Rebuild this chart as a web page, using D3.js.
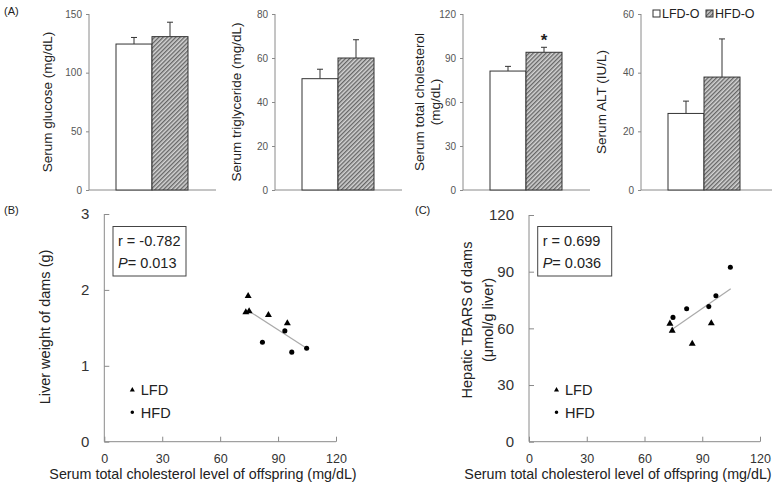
<!DOCTYPE html>
<html><head><meta charset="utf-8">
<script src="https://cdn.jsdelivr.net/npm/d3@7/dist/d3.min.js"></script>
<style>body{margin:0;background:#fff}svg{display:block}text{font-family:"Liberation Sans",Arial,sans-serif}</style>
</head><body>
<svg id="c" width="778" height="497"></svg>
<script>
// ---------- data ----------
const groups = ["LFD-O", "HFD-O"];
const glucoseMean = [124.4, 130.7], glucoseSE = [5.6, 12.3];
const tgMean = [50.6, 60.0], tgSE = [4.3, 8.3];
const tcMean = [81.1, 93.9], tcSE = [3.2, 3.4];
const altMean = [26.1, 38.5], altSE = [4.2, 13.0];
const barTitles = [["Serum glucose (mg/dL)"], ["Serum triglyceride (mg/dL)"], ["Serum total cholesterol", "(mg/dL)"], ["Serum ALT (IU/L)"]];
const barMax = [150, 80, 120, 60];
const barTickStep = [50, 20, 30, 20];
const sigMark = [null, null, "*", null];

// scatter (B): x = serum TC of offspring, y = liver weight of dams
const bLFD_x = [74.5, 73.3, 75.0, 85.0, 94.8], bLFD_y = [1.92, 1.705, 1.72, 1.67, 1.56];
const bHFD_x = [93.5, 81.9, 97.1, 104.8], bHFD_y = [1.46, 1.31, 1.18, 1.23];
const bFit = [[75.0, 1.72], [104.8, 1.23]];
const bStats = ["r = -0.782", "0.013"];
// scatter (C): y = hepatic TBARS
const cLFD_x = [73.2, 74.4, 94.7, 84.8], cLFD_y = [62.5, 58.8, 62.7, 51.9];
const cHFD_x = [104.6, 97.1, 93.4, 81.9, 74.8], cHFD_y = [92.3, 77.3, 71.5, 70.4, 65.8];
const cFit = [[74.8, 59.8], [104.8, 81.0]];
const cStats = ["r = 0.699", "0.036"];
const xTicksScatter = [0, 30, 60, 90, 120];
const bYTicks = [0, 1, 2, 3];
const cYTicks = [0, 30, 60, 90, 120];

// ---------- drawing ----------
const svg = d3.select("#c");
const defs = svg.append("defs");
const pat = defs.append("pattern").attr("id", "hatch").attr("patternUnits", "userSpaceOnUse")
  .attr("width", 3).attr("height", 3).attr("patternTransform", "rotate(45)");
pat.append("rect").attr("width", 3).attr("height", 3).attr("fill", "#d4d4d4");
pat.append("line").attr("x1", 0.75).attr("y1", 0).attr("x2", 0.75).attr("y2", 3).attr("stroke", "#4a4a4a").attr("stroke-width", 1.1);

const fills = ["#fff", "url(#hatch)"];
const AX = "#8a8a8a";

svg.append("text").attr("x", 4).attr("y", 15).attr("font-size", 11).attr("fill", "#222").text("(A)");

const barData = [[glucoseMean, glucoseSE], [tgMean, tgSE], [tcMean, tcSE], [altMean, altSE]];
const axisX = [89, 275, 463, 641];
const labelX = [47.5, 236.5, [419, 435], 601];
const barTop = 14, barBot = 190;

barData.forEach((d, i) => {
  const ax = axisX[i];
  const y = d3.scaleLinear().domain([0, barMax[i]]).range([barBot, barTop]);
  const x = d3.scaleBand().domain(groups).range([ax + 27, ax + 99]).padding(0);
  const g = svg.append("g");
  const yAxis = d3.axisLeft(y).tickValues(d3.range(0, barMax[i] + 0.001, barTickStep[i])).tickSize(3).tickPadding(4);
  const ga = g.append("g").attr("transform", `translate(${ax},0)`).call(yAxis);
  ga.select(".domain").attr("stroke", AX).attr("d", `M0,${barTop}V${barBot}`);
  ga.selectAll(".tick line").attr("stroke", AX);
  ga.selectAll(".tick text").attr("font-size", 10).attr("fill", "#555").attr("font-family", "Liberation Sans, Arial");
  const xEnd = i === 3 ? 772 : ax + 127;
  g.append("line").attr("x1", ax).attr("x2", xEnd).attr("y1", barBot).attr("y2", barBot).attr("stroke", AX);
  groups.forEach((gr, k) => {
    const m = d[0][k], se = d[1][k];
    const bx = x(gr), bw = x.bandwidth();
    g.append("line").attr("x1", bx + bw / 2).attr("x2", bx + bw / 2).attr("y1", y(m)).attr("y2", y(m + se)).attr("stroke", "#333");
    g.append("line").attr("x1", bx + bw / 2 - 3).attr("x2", bx + bw / 2 + 3).attr("y1", y(m + se)).attr("y2", y(m + se)).attr("stroke", "#333");
    g.append("rect").attr("x", bx).attr("y", y(m)).attr("width", bw).attr("height", barBot - y(m))
      .attr("fill", fills[k]).attr("stroke", "#333").attr("stroke-width", 1);
  });
  if (sigMark[i]) {
    const bx = x(groups[1]) + x.bandwidth() / 2;
    g.append("text").attr("x", bx).attr("y", y(d[0][1] + d[1][1])).attr("dy", "-0.1em")
      .attr("text-anchor", "middle").attr("font-size", 17).attr("font-weight", "bold").attr("fill", "#222").text(sigMark[i]);
  }
  barTitles[i].forEach((t, j) => {
    const lx = Array.isArray(labelX[i]) ? labelX[i][j] : labelX[i];
    g.append("text").attr("transform", `translate(${lx},102) rotate(-90)`).attr("text-anchor", "middle")
      .attr("dominant-baseline", "central").attr("font-size", 13.5).attr("fill", "#222").text(t);
  });
});

// legend top
const lg = svg.append("g");
[["LFD-O", 653, 662], ["HFD-O", 706, 715]].forEach((l, k) => {
  lg.append("rect").attr("x", l[1]).attr("y", 10).attr("width", 7).attr("height", 7).attr("fill", fills[k]).attr("stroke", "#333");
  lg.append("text").attr("x", l[2]).attr("y", 17.5).attr("font-size", 12.5).attr("fill", "#222").text(l[0]);
});

// ---------- scatter helper ----------
function scatter(o) {
  const g = svg.append("g");
  const x = d3.scaleLinear().domain([0, 120]).range(o.xr);
  const y = d3.scaleLinear().domain(o.yd).range([441.7, o.yTop]);
  const xa = g.append("g").attr("transform", `translate(0,${y(0)})`)
    .call(d3.axisBottom(x).tickValues(xTicksScatter).tickSize(-5).tickPadding(12.5));
  const ya = g.append("g").attr("transform", `translate(${x(0)},0)`)
    .call(d3.axisLeft(y).tickValues(o.yt).tickFormat(d3.format("d")).tickSize(-5).tickPadding(15));
  [xa, ya].forEach(a => {
    a.select(".domain").attr("stroke", AX);
    a.selectAll(".tick line").attr("stroke", AX);
  });
  xa.selectAll(".tick text").attr("font-size", 12.5).attr("fill", "#333").attr("font-family", "Liberation Sans, Arial");
  ya.selectAll(".tick text").attr("font-size", 15).attr("fill", "#333").attr("font-family", "Liberation Sans, Arial");
  xa.select(".domain").attr("d", `M${o.xr[0]},0H${o.xr[1]}`);
  ya.select(".domain").attr("d", `M0,${y(o.yd[1])}V${y(0)}`);
  g.append("line").attr("x1", x(o.fit[0][0])).attr("y1", y(o.fit[0][1])).attr("x2", x(o.fit[1][0])).attr("y2", y(o.fit[1][1]))
    .attr("stroke", "#aaa").attr("stroke-width", 1.2);
  const tri = d3.symbol().type(d3.symbolTriangle).size(21);
  const cir = d3.symbol().type(d3.symbolCircle).size(20);
  o.lx.forEach((v, k) => g.append("path").attr("d", tri()).attr("transform", `translate(${x(v)},${y(o.ly[k])})`).attr("fill", "#000"));
  o.hx.forEach((v, k) => g.append("path").attr("d", cir()).attr("transform", `translate(${x(v)},${y(o.hy[k])})`).attr("fill", "#000"));
  g.append("rect").attr("x", o.box[0]).attr("y", 226.5).attr("width", o.box[1]).attr("height", 49.5).attr("fill", "none").attr("stroke", "#444");
  g.append("text").attr("x", o.box[0] + 5).attr("y", 245.5).attr("font-size", 14.5).attr("fill", "#222").text(o.stats[0]);
  const t2 = g.append("text").attr("x", o.box[0] + 5).attr("y", 267.5).attr("font-size", 14.5).attr("fill", "#222");
  t2.append("tspan").attr("font-style", "italic").text("P");
  t2.append("tspan").text("= " + o.stats[1]);
  const lt = d3.symbol().type(d3.symbolTriangle).size(11);
  const lc = d3.symbol().type(d3.symbolCircle).size(10);
  g.append("path").attr("d", lt()).attr("transform", `translate(${o.leg},390)`).attr("fill", "#000");
  g.append("path").attr("d", lc()).attr("transform", `translate(${o.leg},412.3)`).attr("fill", "#000");
  g.append("text").attr("x", o.leg + 8.5).attr("y", 395).attr("font-size", 14.5).attr("fill", "#222").text("LFD");
  g.append("text").attr("x", o.leg + 8.5).attr("y", 417.5).attr("font-size", 14.5).attr("fill", "#222").text("HFD");
  g.append("text").attr("x", o.xtc).attr("y", 479).attr("text-anchor", "middle").attr("font-size", 14.3)
    .attr("fill", "#222").text("Serum total cholesterol level of offspring (mg/dL)");
  o.ytitle.forEach((t, j) => {
    g.append("text").attr("transform", `translate(${o.ytx[j]},${o.yty}) rotate(-90)`).attr("text-anchor", "middle")
      .attr("dominant-baseline", "central").attr("font-size", 14.5).attr("fill", "#222").text(t);
  });
  g.append("text").attr("x", o.tag[0]).attr("y", o.tag[1]).attr("font-size", 11).attr("fill", "#222").text(o.tagText);
}

scatter({ xr: [104.3, 336], yd: [0, 3], yTop: 214, yt: bYTicks, fit: bFit,
  lx: bLFD_x, ly: bLFD_y, hx: bHFD_x, hy: bHFD_y, box: [113, 73], stats: bStats, leg: 132.3,
  xtc: 203, ytitle: ["Liver weight of dams (g)"], ytx: [45], yty: 327, tag: [4, 214], tagText: "(B)" });
scatter({ xr: [529, 760], yd: [0, 120], yTop: 215, yt: cYTicks, fit: cFit,
  lx: cLFD_x, ly: cLFD_y, hx: cHFD_x, hy: cHFD_y, box: [537.7, 74], stats: cStats, leg: 556.5,
  xtc: 618, ytitle: ["Hepatic TBARS of dams", "(μmol/g liver)"], ytx: [467, 488], yty: 320, tag: [415, 214], tagText: "(C)" });
</script>
</body></html>
